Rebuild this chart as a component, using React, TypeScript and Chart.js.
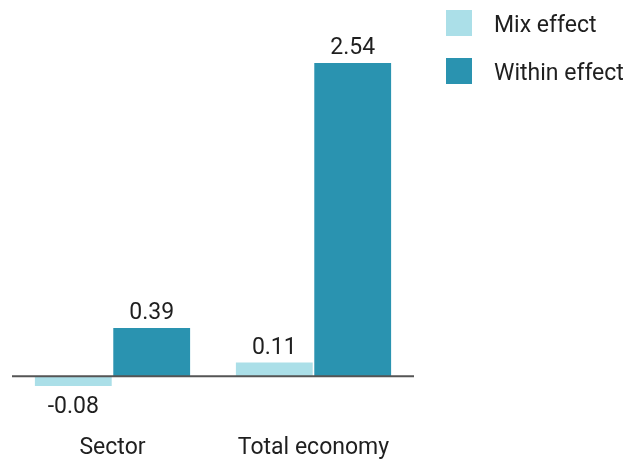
import React, { useEffect, useRef } from "react";
import { Chart, registerables } from "chart.js";

Chart.register(...registerables);

const categories = ["Sector", "Total economy"];
const mixEffect = [-0.08, 0.11];
const withinEffect = [0.39, 2.54];
const seriesNames = ["Mix effect", "Within effect"];
const seriesColors = ["#abdfe8", "#2a93b0"];

const FONT = "Roboto, 'Liberation Sans', sans-serif";
const TEXT = "#1f1f1f";
const FS = 23;

const valueLabels = {
  id: "valueLabels",
  afterDatasetsDraw(chart: any) {
    const ctx = chart.ctx;
    ctx.save();
    ctx.font = `${FS}px ${FONT}`;
    ctx.fillStyle = TEXT;
    ctx.textAlign = "center";
    chart.data.datasets.forEach((ds: any, di: number) => {
      const meta = chart.getDatasetMeta(di);
      meta.data.forEach((bar: any, i: number) => {
        const v = ds.data[i];
        const label = v.toFixed(2);
        if (v >= 0) {
          ctx.textBaseline = "alphabetic";
          ctx.fillText(label, bar.x, bar.y - 9);
        } else {
          ctx.textBaseline = "top";
          ctx.fillText(label, bar.x, bar.y + 10);
        }
      });
    });
    ctx.restore();
  },
};

const zeroLine = {
  id: "zeroLine",
  afterDatasetsDraw(chart: any) {
    const { ctx, chartArea, scales } = chart;
    const y = scales.y.getPixelForValue(0);
    ctx.save();
    ctx.strokeStyle = "#555555";
    ctx.lineWidth = 2;
    ctx.beginPath();
    ctx.moveTo(chartArea.left, y);
    ctx.lineTo(chartArea.right, y);
    ctx.stroke();
    ctx.restore();
  },
};

const sideLegend = {
  id: "sideLegend",
  afterDraw(chart: any) {
    const ctx = chart.ctx;
    ctx.save();
    ctx.font = `${FS}px ${FONT}`;
    ctx.textBaseline = "alphabetic";
    ctx.textAlign = "left";
    chart.data.datasets.forEach((ds: any, i: number) => {
      const top = 10 + i * 48;
      ctx.fillStyle = ds.backgroundColor;
      ctx.fillRect(446, top, 26, 26);
      ctx.fillStyle = TEXT;
      ctx.fillText(ds.label, 494, top + 22);
    });
    ctx.restore();
  },
};

export default function App() {
  const ref = useRef<HTMLCanvasElement | null>(null);
  useEffect(() => {
    if (!ref.current) return;
    const chart = new Chart(ref.current, {
      type: "bar",
      data: {
        labels: categories,
        datasets: [
          { label: seriesNames[0], data: mixEffect, backgroundColor: seriesColors[0] },
          { label: seriesNames[1], data: withinEffect, backgroundColor: seriesColors[1] },
        ],
      },
      options: {
        animation: false,
        responsive: false,
        maintainAspectRatio: false,
        layout: { padding: { left: 12, right: 223, top: 31, bottom: -5 } },
        datasets: { bar: { categoryPercentage: 0.78, barPercentage: 0.98 } },
        plugins: { legend: { display: false }, tooltip: { enabled: false } },
        scales: {
          x: {
            grid: { display: false, drawTicks: false },
            border: { display: false },
            ticks: { color: TEXT, font: { family: FONT, size: FS }, padding: 3 },
          },
          y: { display: false, min: -0.448, max: 2.8 },
        },
      },
      plugins: [zeroLine, valueLabels, sideLegend],
    });
    return () => chart.destroy();
  }, []);
  return (
    <div style={{ position: "fixed", left: 0, top: 0, width: 637, height: 460, background: "#fff" }}>
      <canvas ref={ref} width={637} height={460} style={{ display: "block" }} />
    </div>
  );
}
